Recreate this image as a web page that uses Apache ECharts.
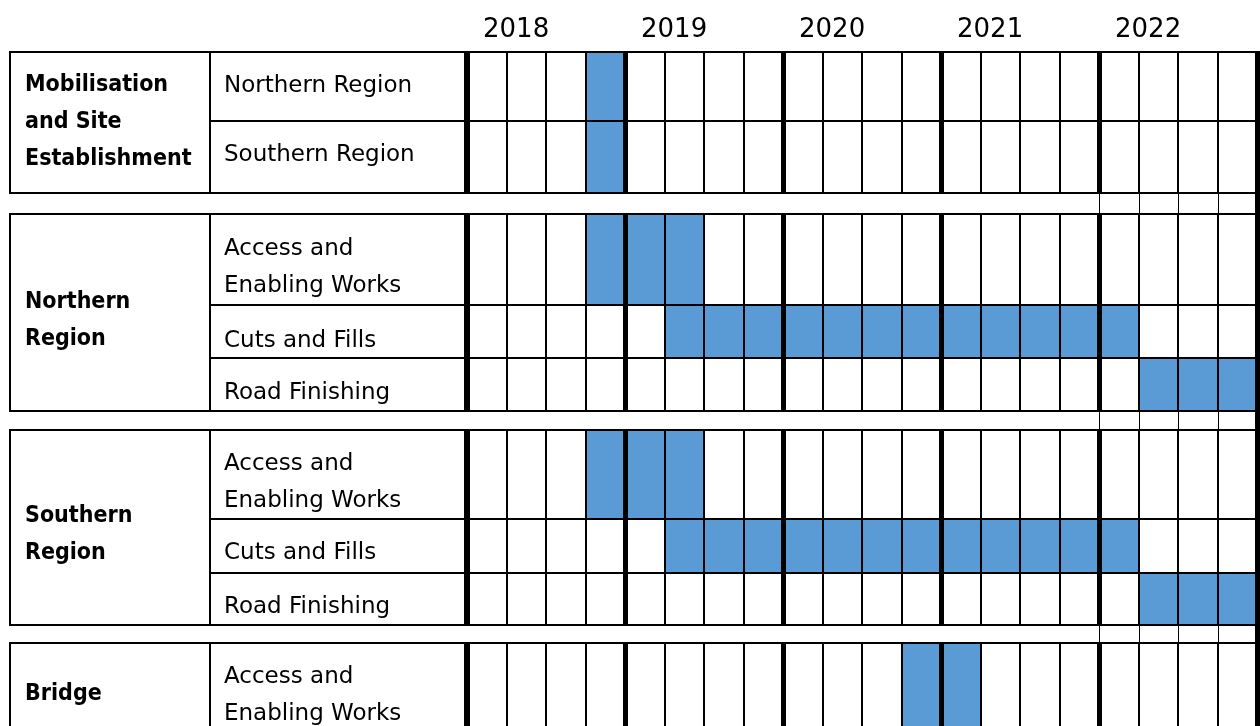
<!DOCTYPE html>
<html>
<head>
<meta charset="utf-8">
<style>
  html, body { margin: 0; padding: 0; background: #fff; }
  #chart { width: 1260px; height: 726px; }
</style>
<script src="https://cdn.jsdelivr.net/npm/echarts@6/dist/echarts.min.js"></script>
</head>
<body>
<div id="chart"></div>
<script>
// timeline: five years, four quarters each
const years = ['2018', '2019', '2020', '2021', '2022'];
const quartersPerYear = 4;

// activity groups (left column)
const groupNames = ['Mobilisation\nand Site\nEstablishment', 'Northern\nRegion', 'Southern\nRegion', 'Bridge'];

// one entry per task row
const taskNames = [
  'Northern Region', 'Southern Region',
  'Access and\nEnabling Works', 'Cuts and Fills', 'Road Finishing',
  'Access and\nEnabling Works', 'Cuts and Fills', 'Road Finishing',
  'Access and\nEnabling Works'
];
const taskGroup = [0, 0, 1, 1, 1, 2, 2, 2, 3];
// first scheduled quarter (0 = Q1 2018) and number of quarters
const taskStart = [3, 3, 3, 5, 17, 3, 5, 17, 11];
const taskLength = [1, 1, 3, 12, 3, 3, 12, 3, 2];

// ---- layout ----
const BLUE = '#5b9bd5';
const FONT = "'DejaVu Sans', 'Noto Sans', sans-serif";
const BOLD_FONT = "'DejaVu Sans Condensed', 'Noto Sans', sans-serif";
const groupColWidth = 200;
const taskColWidth = 257;
const rowHeight = [69, 72, 91, 53, 53, 89, 54, 52, 89];
const blockGap = [21, 19, 18];
const labelDy = [0, -2, 8, 10, 9, 8, 7, 8, 8];
const groupDy = [0, 8, 7, 7];
const gapColsFrom = 16; // the last year's columns run on through the gaps

const nQuarters = years.length * quartersPerYear;

const rowTop = [];
let acc = 0;
taskNames.forEach((_, i) => {
  if (i > 0 && taskGroup[i] !== taskGroup[i - 1]) acc += blockGap[taskGroup[i] - 1];
  rowTop.push(acc);
  acc += rowHeight[i];
});
const blockTop = groupNames.map((_, g) => rowTop[taskGroup.indexOf(g)]);
const blockBottom = groupNames.map((_, g) => {
  const last = taskGroup.lastIndexOf(g);
  return rowTop[last] + rowHeight[last];
});

const gapLineData = [];
blockGap.forEach((_, g) => {
  for (let q = gapColsFrom; q <= nQuarters; q++) gapLineData.push([q, g]);
});

// snap to whole pixels so the rules stay crisp
const px = p => [Math.round(p[0]), Math.round(p[1])];

// one row of the timeline: quarter cells, then the heavy year rules on top
function renderRow(params, api) {
  const r = api.value(1);
  const y0 = rowTop[r], y1 = rowTop[r] + rowHeight[r];
  const children = [];
  for (let q = 0; q < nQuarters; q++) {
    const a = px(api.coord([q, y0]));
    const b = px(api.coord([q + 1, y1]));
    const on = q >= taskStart[r] && q < taskStart[r] + taskLength[r];
    children.push({
      type: 'rect',
      shape: { x: a[0], y: a[1], width: b[0] - a[0], height: b[1] - a[1] },
      style: { fill: on ? BLUE : '#fff', stroke: '#000', lineWidth: 2 }
    });
  }
  for (let k = 0; k <= years.length; k++) {
    const a = px(api.coord([k * quartersPerYear, y0]));
    const b = px(api.coord([k * quartersPerYear, y1]));
    children.push({
      type: 'line',
      shape: { x1: a[0] + 0.5, y1: a[1] - 1, x2: b[0] + 0.5, y2: b[1] + 1 },
      style: { stroke: '#000', lineWidth: 5 }
    });
  }
  return { type: 'group', children };
}

const chart = echarts.init(document.getElementById('chart'));

const option = {
  animation: false,
  grid: { left: 467, right: 3, top: 52, bottom: 0 },
  xAxis: {
    type: 'value',
    position: 'top',
    min: 0,
    max: nQuarters,
    interval: quartersPerYear,
    axisLine: { show: false },
    axisTick: { show: false },
    splitLine: { show: false },
    axisLabel: {
      formatter: v => years[v / quartersPerYear] || '',
      align: 'left',
      verticalAlign: 'middle',
      padding: [0, 0, 0, 16],
      margin: 22,
      color: '#000',
      fontSize: 26,
      fontFamily: FONT
    }
  },
  yAxis: {
    type: 'value',
    inverse: true,
    min: 0,
    max: 674,
    show: false
  },
  series: [
    {
      type: 'custom',
      name: 'gap lines',
      data: gapLineData,
      encode: { x: 0, y: 1 },
      renderItem: (params, api) => {
        const q = api.value(0), g = api.value(1);
        const a = px(api.coord([q, blockBottom[g]]));
        const b = px(api.coord([q, blockTop[g + 1]]));
        const last = q === nQuarters;
        return {
          type: 'line',
          shape: { x1: a[0] + 0.5, y1: a[1], x2: b[0] + 0.5, y2: b[1] },
          style: { stroke: '#000', lineWidth: last ? 5 : 1 }
        };
      }
    },
    {
      type: 'custom',
      name: 'schedule',
      data: taskNames.map((_, r) => [0, r]),
      encode: { x: 0, y: 1 },
      renderItem: renderRow
    },
    {
      type: 'custom',
      name: 'tasks',
      data: taskNames.map((_, r) => [0, r]),
      encode: { x: 0, y: 1 },
      renderItem: (params, api) => {
        const r = api.value(1);
        const a = px(api.coord([0, rowTop[r]]));
        const b = px(api.coord([0, rowTop[r] + rowHeight[r]]));
        const x0 = a[0] - taskColWidth;
        return {
          type: 'group',
          children: [
            {
              type: 'rect',
              shape: { x: x0, y: a[1], width: taskColWidth - 2, height: b[1] - a[1] },
              style: { fill: '#fff', stroke: '#000', lineWidth: 2 }
            },
            {
              type: 'text',
              x: x0 + 14,
              y: (a[1] + b[1]) / 2 + labelDy[r],
              style: {
                text: taskNames[r],
                fill: '#000',
                fontSize: 23,
                fontFamily: FONT,
                lineHeight: 37,
                align: 'left',
                verticalAlign: 'middle'
              }
            }
          ]
        };
      }
    },
    {
      type: 'custom',
      name: 'groups',
      data: groupNames.map((_, g) => [0, g]),
      encode: { x: 0, y: 1 },
      renderItem: (params, api) => {
        const g = api.value(1);
        const a = px(api.coord([0, blockTop[g]]));
        const b = px(api.coord([0, blockBottom[g]]));
        const x0 = a[0] - taskColWidth - groupColWidth;
        return {
          type: 'group',
          children: [
            {
              type: 'rect',
              shape: { x: x0, y: a[1], width: groupColWidth, height: b[1] - a[1] },
              style: { fill: '#fff', stroke: '#000', lineWidth: 2 }
            },
            {
              type: 'text',
              x: x0 + 15,
              y: (a[1] + b[1]) / 2 + groupDy[g],
              style: {
                text: groupNames[g],
                fill: '#000',
                fontSize: 23,
                fontWeight: 'bold',
                fontFamily: BOLD_FONT,
                lineHeight: 37,
                align: 'left',
                verticalAlign: 'middle'
              }
            }
          ]
        };
      }
    }
  ]
};

chart.setOption(option);
</script>
</body>
</html>
